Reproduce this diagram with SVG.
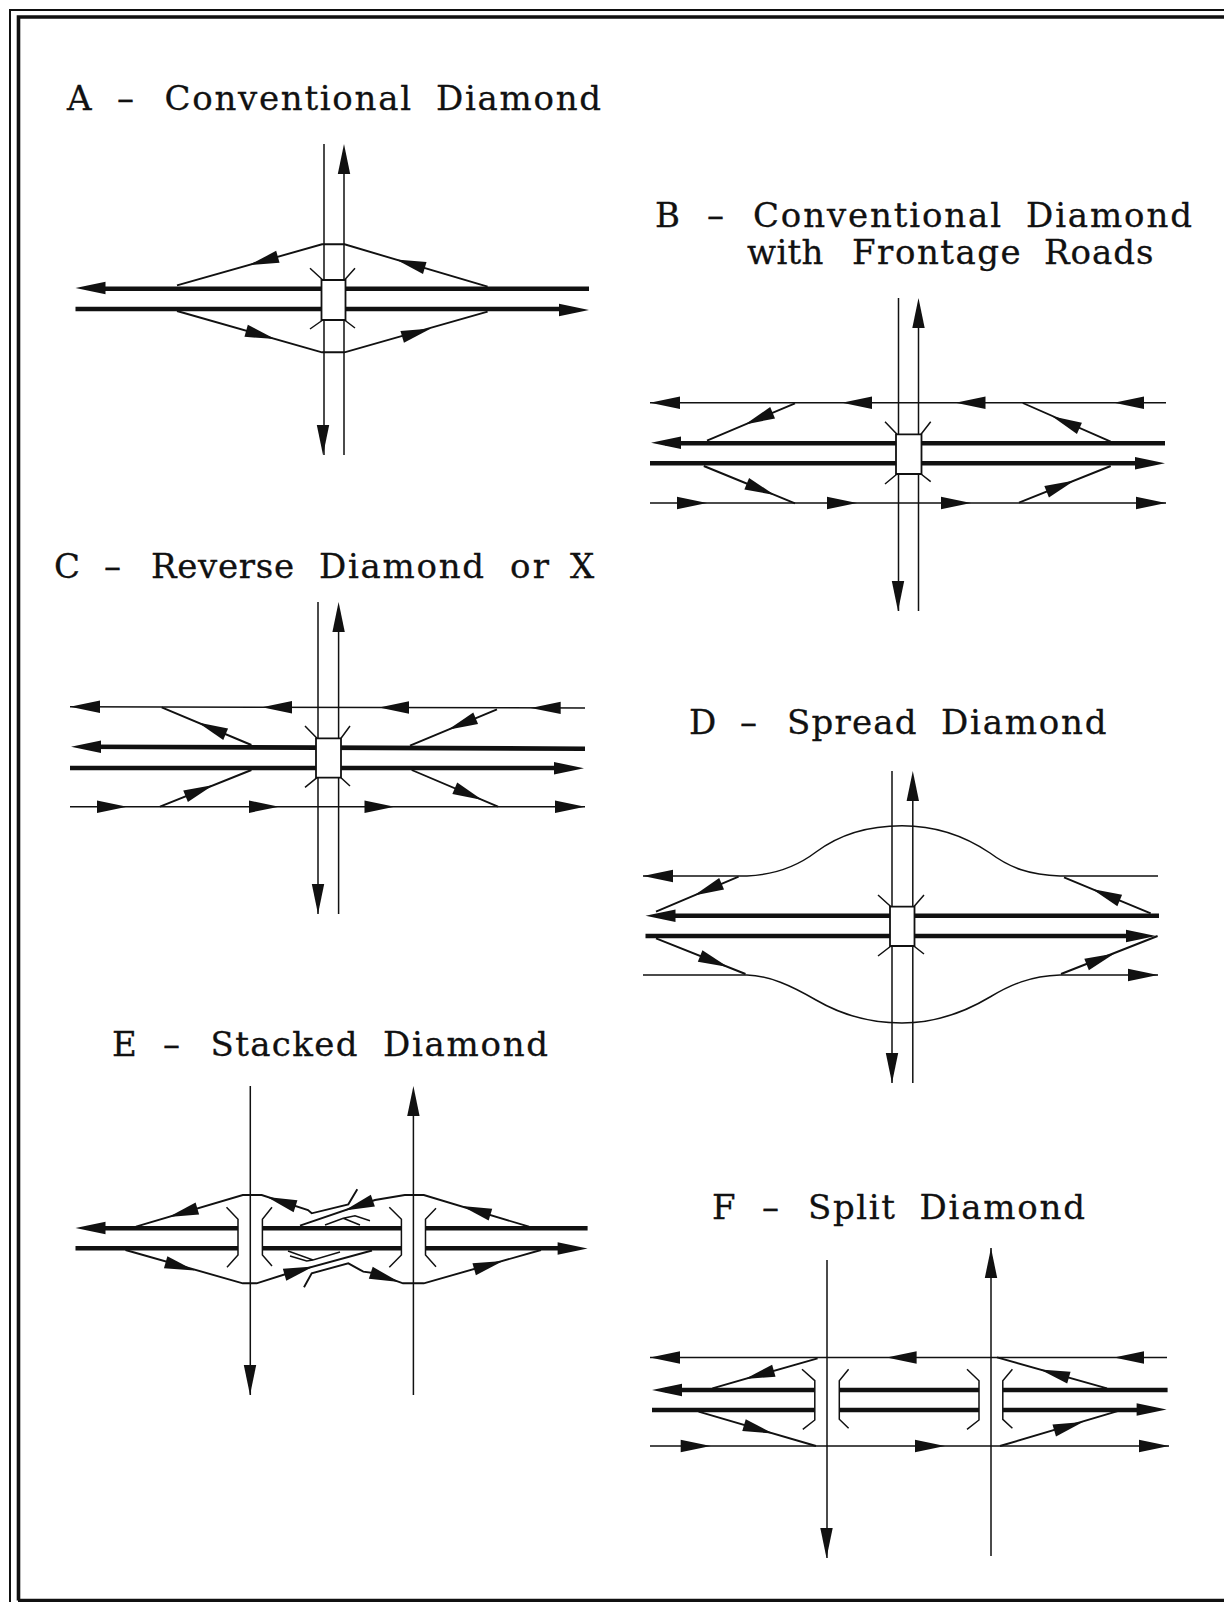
<svg xmlns="http://www.w3.org/2000/svg" width="1224" height="1602" viewBox="0 0 1224 1602">
<style>
.t{font-family:"DejaVu Serif","Liberation Serif",serif;font-size:34px;fill:#111;stroke:#111;stroke-width:.3}
.n{fill:none;stroke:#111;stroke-width:1.5}
.r{fill:none;stroke:#111;stroke-width:1.9}
.h{fill:none;stroke:#111;stroke-width:4.6}
.b{fill:#fff;stroke:#111;stroke-width:1.8}
.f{fill:none;stroke:#111}
</style>
<defs><polygon id="a" points="0,0 -30,-6.2 -30,6.2" fill="#111"/></defs>
<rect width="1224" height="1602" fill="#fff"/>
<g id="frame">
<path class="f" stroke-width="2" d="M10 1602V10H1224"/>
<path class="f" stroke-width="3.600" d="M18.500 1600.500V17H1224M18 1600.500H1224"/>
</g>

<g id="titles">
<text class="t" y="110"><tspan x="67" textLength="22">A</tspan> <tspan x="117">–</tspan> <tspan x="164.500" textLength="246.500">Conventional</tspan> <tspan x="436" textLength="165">Diamond</tspan></text>
<text class="t" y="227"><tspan x="655" textLength="22">B</tspan> <tspan x="707">–</tspan> <tspan x="753" textLength="248">Conventional</tspan> <tspan x="1026" textLength="166">Diamond</tspan></text>
<text class="t" y="264"><tspan x="747" textLength="76.500">with</tspan> <tspan x="852" textLength="168.700">Frontage</tspan> <tspan x="1044" textLength="109.500">Roads</tspan></text>
<text class="t" y="578"><tspan x="54" textLength="22">C</tspan> <tspan x="104">–</tspan> <tspan x="151" textLength="143">Reverse</tspan> <tspan x="319" textLength="165">Diamond</tspan> <tspan x="510" textLength="39">or</tspan> <tspan x="570" textLength="24">X</tspan></text>
<text class="t" y="734"><tspan x="689" textLength="24">D</tspan> <tspan x="740">–</tspan> <tspan x="787" textLength="129.500">Spread</tspan> <tspan x="941" textLength="165.500">Diamond</tspan></text>
<text class="t" y="1056"><tspan x="112" textLength="22">E</tspan> <tspan x="163">–</tspan> <tspan x="210.500" textLength="147">Stacked</tspan> <tspan x="383" textLength="165">Diamond</tspan></text>
<text class="t" y="1219"><tspan x="712" textLength="21">F</tspan> <tspan x="762">–</tspan> <tspan x="808" textLength="87">Split</tspan> <tspan x="919.500" textLength="165.500">Diamond</tspan></text>
</g>

<g id="diamond-a">
<path class="n" d="M324 144V455M344 160V455"/>
<path class="h" d="M90 288.700H589M75.500 309H570"/>
<path class="b" d="M321.500 280H345.500V320H321.500Z"/>
<path class="n" d="M322.800 280L310 268.300M344.500 280L355 268.300M322.800 320L310 329M344.500 320L355 328"/>
<path class="r" d="M177 285.300L322 244.300H344.500L487.600 286.700M177 311L322 352.300H344.500L487.600 311.700"/>
<use href="#a" transform="translate(344 144) rotate(-90)"/>
<use href="#a" transform="translate(323 455) rotate(90)"/>
<use href="#a" transform="translate(75.500 288) rotate(180)"/>
<use href="#a" transform="translate(589 310)"/>
<use href="#a" transform="translate(249 265) rotate(164.200)"/>
<use href="#a" transform="translate(396 259.500) rotate(196.500)"/>
<use href="#a" transform="translate(275 339) rotate(15.800)"/>
<use href="#a" transform="translate(431 328.500) rotate(-16.300)"/>
</g>

<g id="diamond-b">
<path class="n" d="M898.500 298V611M918.500 310V611"/>
<path class="n" d="M650 402.700H1166M650 503H1166"/>
<path class="h" d="M665 443.300H1165M650 463.300H1150"/>
<path class="b" d="M896 434.300H921.500V474H896Z"/>
<path class="n" d="M897 434.300L885 421.700M921 434.300L930.700 421.700M897 474L885 484M921 474L930.700 481.700"/>
<path class="r" d="M795 403.300L707 440.700M1022.800 403L1110.700 441.700M703.800 466L795 503.300M1019 502.700L1110.700 466"/>
<use href="#a" transform="translate(918.500 298) rotate(-90)"/>
<use href="#a" transform="translate(898 611) rotate(90)"/>
<use href="#a" transform="translate(650 402.700) rotate(180)"/>
<use href="#a" transform="translate(842 402.700) rotate(180)"/>
<use href="#a" transform="translate(955.500 402.700) rotate(180)"/>
<use href="#a" transform="translate(1114 402.700) rotate(180)"/>
<use href="#a" transform="translate(707 503)"/>
<use href="#a" transform="translate(857 503)"/>
<use href="#a" transform="translate(971 503)"/>
<use href="#a" transform="translate(1166 503)"/>
<use href="#a" transform="translate(651 442.800) rotate(180)"/>
<use href="#a" transform="translate(1165 463.300)"/>
<use href="#a" transform="translate(745 424.500) rotate(157)"/>
<use href="#a" transform="translate(1052 416.300) rotate(203.800)"/>
<use href="#a" transform="translate(774.500 495) rotate(22.200)"/>
<use href="#a" transform="translate(1074.500 480.500) rotate(-21.800)"/>
</g>

<g id="diamond-c">
<path class="n" d="M318 602V914M338.600 615V914"/>
<path class="n" d="M70 706.700L585 708M70 806.700H585"/>
<path class="h" d="M85 746.700L585 748.700M70 768H565"/>
<path class="b" d="M316 738.300H341V777.700H316Z"/>
<path class="n" d="M317 738.300L305 726M341 738.300L350 726M317 777.700L305 787.300M341 777.700L350 786"/>
<path class="r" d="M161.700 707.300L251.400 745M497 709.300L410 745.700M251.400 770L160 806.700M411.700 770L498 806.700"/>
<use href="#a" transform="translate(338.600 602) rotate(-90)"/>
<use href="#a" transform="translate(318 914) rotate(90)"/>
<use href="#a" transform="translate(70 706.700) rotate(180)"/>
<use href="#a" transform="translate(262 707.200) rotate(180)"/>
<use href="#a" transform="translate(379 707.500) rotate(180)"/>
<use href="#a" transform="translate(530.700 707.900) rotate(180)"/>
<use href="#a" transform="translate(127 806.700)"/>
<use href="#a" transform="translate(279 806.700)"/>
<use href="#a" transform="translate(394.500 806.700)"/>
<use href="#a" transform="translate(585 806.700)"/>
<use href="#a" transform="translate(71 746.700) rotate(180)"/>
<use href="#a" transform="translate(584 768.300)"/>
<use href="#a" transform="translate(198 722.600) rotate(202.800)"/>
<use href="#a" transform="translate(448 729.800) rotate(157.300)"/>
<use href="#a" transform="translate(213.400 785) rotate(-21.900)"/>
<use href="#a" transform="translate(482.400 800) rotate(23)"/>
</g>

<g id="diamond-d">
<path class="n" d="M892 771V1083M912.800 785V1083"/>
<path class="n" d="M643 876H747C770 875 795 868 816 852C840 834 870 825.700 902 825.700C935 825.700 965 836 990 853C1010 868 1030 875 1060 876H1158"/>
<path class="n" d="M643 975H747C770 976 790 985 816 1000C840 1014 870 1023 902 1023C935 1023 965 1012 990 997C1010 985 1030 976 1060 975H1158"/>
<path class="h" d="M660 915.700H1159M645.500 936H1140"/>
<path class="b" d="M890 906.700H914.500V946H890Z"/>
<path class="n" d="M891 906.700L878 895M913.800 906.700L924 895M891 946L878 956M913.800 946L924 954"/>
<path class="r" d="M738.600 876.700L656 911.700M1064 877.300L1150.700 913.300M656 938.300L745.500 974M1061 974L1157.600 936"/>
<use href="#a" transform="translate(912.800 771) rotate(-90)"/>
<use href="#a" transform="translate(892 1083) rotate(90)"/>
<use href="#a" transform="translate(643 876) rotate(180)"/>
<use href="#a" transform="translate(1158 975)"/>
<use href="#a" transform="translate(645.500 915.700) rotate(180)"/>
<use href="#a" transform="translate(1156 936)"/>
<use href="#a" transform="translate(694 895.500) rotate(157)"/>
<use href="#a" transform="translate(1092 889) rotate(202.500)"/>
<use href="#a" transform="translate(728 967) rotate(21.700)"/>
<use href="#a" transform="translate(1114.500 953.500) rotate(-21.500)"/>
</g>

<g id="diamond-e">
<path class="n" d="M250.300 1086V1395M413.400 1100V1395"/>
<path class="h" d="M90 1228.300H238M262.400 1228.300H401.400M425.500 1228.300H587.600M75.500 1248.300H238M262.400 1248.300H401.400M425.500 1248.300H570"/>
<path class="n" d="M226.500 1207.300L238 1219.300V1255L227 1267.300M272 1207.300L262.400 1219.300V1255L272 1266M389.300 1207.300L401.400 1219.300V1255L389.300 1267.300M436 1208.300L425.500 1219.300V1255L436 1266.700"/>
<path class="r" d="M136 1226.700L242.800 1195H261.700L308 1210L311.700 1213.300L348.300 1204.300L357.300 1189.300"/>
<path class="r" d="M300 1225.700L375 1200L404.800 1195H423.800L529 1226.700"/>
<path class="n" d="M325 1225L343.300 1218.300L355 1215.700L370 1220.700M343.300 1218.300L360 1225"/>
<path class="n" d="M288 1251L313 1260L340 1252M290 1256L306.700 1261L313 1260"/>
<path class="r" d="M125.500 1250L242.800 1283.300H256.600L286 1274L372 1250.500"/>
<path class="r" d="M304 1287.300L311.700 1273.300L348.300 1263.300L363.300 1271.700L375 1273.300L403 1283.300H423.800L541 1250"/>
<use href="#a" transform="translate(413.400 1086) rotate(-90)"/>
<use href="#a" transform="translate(250 1395) rotate(90)"/>
<use href="#a" transform="translate(75.500 1228) rotate(180)"/>
<use href="#a" transform="translate(587.600 1248.500)"/>
<use href="#a" transform="translate(168.600 1217) rotate(163.500)"/>
<use href="#a" transform="translate(267 1197) rotate(198)"/>
<use href="#a" transform="translate(344.500 1210.500) rotate(161)"/>
<use href="#a" transform="translate(461.700 1206) rotate(196.700)"/>
<use href="#a" transform="translate(194.500 1270.500) rotate(16)"/>
<use href="#a" transform="translate(313.400 1266.500) rotate(-16)"/>
<use href="#a" transform="translate(399.300 1282) rotate(18)"/>
<use href="#a" transform="translate(503 1261) rotate(-16)"/>
</g>

<g id="diamond-f">
<path class="n" d="M827 1260V1558M991 1248V1556"/>
<path class="n" d="M650 1357.500H1167M650 1446H1169"/>
<path class="h" d="M665 1390H814.800M839.300 1390H979M1002.800 1390H1167.600M652 1410H814.800M839.300 1410H979M1002.800 1410H1150"/>
<path class="n" d="M802 1369.300L814.800 1380.700V1420L802.800 1429.300M848.600 1369.300L839.300 1380.700V1419.300L848.600 1428.300M967 1369.300L979 1380.700V1420L967 1429.300M1012.400 1369.300L1002.800 1380.700V1419.300L1012.400 1428.300"/>
<path class="r" d="M817.600 1358.300L712.400 1388.300M997 1357.300L1107 1388.300M698.600 1411.700L816 1446M1000 1446L1119.300 1410.700"/>
<use href="#a" transform="translate(991 1248) rotate(-90)"/>
<use href="#a" transform="translate(826.500 1558) rotate(90)"/>
<use href="#a" transform="translate(650 1357.500) rotate(180)"/>
<use href="#a" transform="translate(886.600 1357.500) rotate(180)"/>
<use href="#a" transform="translate(1114 1357.500) rotate(180)"/>
<use href="#a" transform="translate(710.700 1446)"/>
<use href="#a" transform="translate(945 1446)"/>
<use href="#a" transform="translate(1169 1446)"/>
<use href="#a" transform="translate(652 1390) rotate(180)"/>
<use href="#a" transform="translate(1166.600 1409.500)"/>
<use href="#a" transform="translate(745 1379) rotate(164)"/>
<use href="#a" transform="translate(1040 1369.500) rotate(195.700)"/>
<use href="#a" transform="translate(772.800 1433.500) rotate(16.300)"/>
<use href="#a" transform="translate(1083 1422) rotate(-16.500)"/>
</g>
</svg>
